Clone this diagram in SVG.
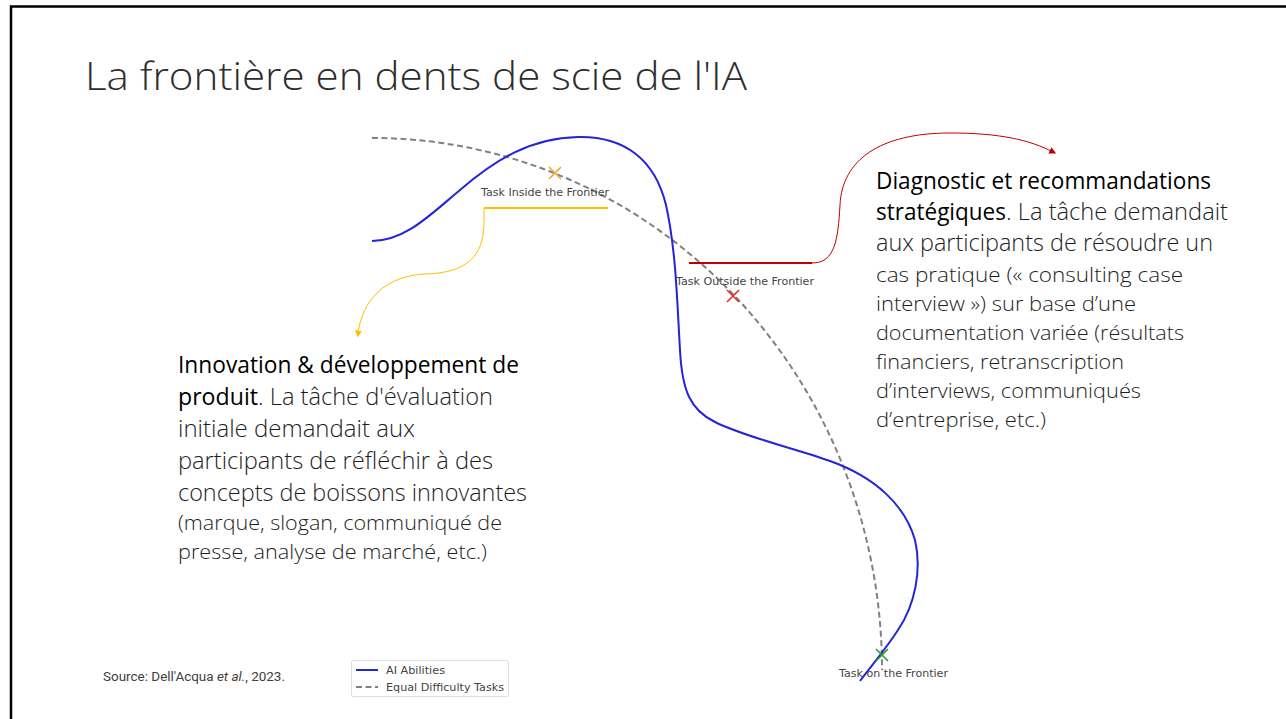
<svg xmlns="http://www.w3.org/2000/svg" width="1286" height="719" viewBox="0 0 1286 719">
<defs>
<marker id="arrY" viewBox="0 0 10 10" refX="5" refY="5" markerWidth="7" markerHeight="7" orient="auto"><path d="M0,0 L10,5 L0,10 z" fill="#FFC000"/></marker>
<marker id="arrR" viewBox="0 0 10 10" refX="5" refY="5" markerWidth="7" markerHeight="7" orient="auto"><path d="M0,0 L10,5 L0,10 z" fill="#C00000"/></marker>
<style>
.title{font-family:"Open Sans","Liberation Sans",sans-serif;font-weight:300;font-size:38px;fill:#2e2e2e}
.body{font-family:"Open Sans","Liberation Sans",sans-serif;font-weight:300;fill:#1e1e1e}
.bold{font-family:"Open Sans","Liberation Sans",sans-serif;font-weight:400;fill:#000}
.lbl{font-family:"DejaVu Sans",sans-serif;font-size:11px;fill:#444}
.src{font-family:Roboto,"Liberation Sans",sans-serif;font-size:12px;fill:#404040}
.ai{fill:none;stroke:#2424d8;stroke-width:2}
.eq{fill:none;stroke:#808080;stroke-width:2;stroke-dasharray:6,3.5}
</style>
</defs>
<rect width="1286" height="719" fill="#fff"/>
<path d="M11,719 V6.5 H1286" fill="none" stroke="#000" stroke-width="2.5"/>
<g id="title"><text class="title" x="85" y="90" textLength="662" lengthAdjust="spacingAndGlyphs">La frontière en dents de scie de l'IA</text></g>
<g id="chart">
<path class="eq" d="M372,138 A510,532 0 0 1 882,670"/>
<path class="ai" d="M372,241 C405,241 430,215 460,190 C495,160 530,138 578,137 C625,136 655,160 666,205 C676,250 677,300 680,350 C682,390 690,410 715,422 C745,437 790,447 830,461 C875,477 905,505 915,540 C922,570 915,605 898,630 C885,650 872,665 860,681"/>
<g stroke="#f0a830" stroke-width="1.6"><path d="M549,167 L561,179 M561,167 L549,179"/></g>
<g stroke="#e03030" stroke-width="1.6"><path d="M727,290 L739,302 M739,290 L727,302"/></g>
<g stroke="#2a9a2a" stroke-width="1.6"><path d="M876,649 L888,661 M888,649 L876,661"/></g>
<text class="lbl" x="481" y="196" textLength="128" lengthAdjust="spacingAndGlyphs">Task Inside the Frontier</text>
<text class="lbl" x="676" y="285" textLength="138" lengthAdjust="spacingAndGlyphs">Task Outside the Frontier</text>
<text class="lbl" x="839" y="677" textLength="109" lengthAdjust="spacingAndGlyphs">Task on the Frontier</text>
</g>
<g id="legend">
<rect x="351.5" y="660.5" width="157" height="36" rx="2" fill="#fff" stroke="#ddd"/>
<path class="ai" d="M356,670 H378"/>
<path class="eq" d="M356,687 H378" stroke-dasharray="5,3"/>
<text class="lbl" x="386" y="674" font-size="10.5" textLength="59" lengthAdjust="spacingAndGlyphs">AI Abilities</text>
<text class="lbl" x="386" y="691" font-size="10.5" textLength="118" lengthAdjust="spacingAndGlyphs">Equal Difficulty Tasks</text>
</g>
<g id="source"><text class="src" x="103" y="681" textLength="182" lengthAdjust="spacingAndGlyphs">Source: Dell'Acqua <tspan font-style="italic">et al.</tspan>, 2023.</text></g>
<g id="connectors">
<path d="M484,208 H608" stroke="#FFC000" stroke-width="2" fill="none"/>
<path d="M484,208 V222 C484,258 465,273 425,274 C385,276 362,300 358,334" stroke="#FFC000" stroke-width="1" fill="none" marker-end="url(#arrY)"/>
<path d="M689,263 H812" stroke="#C00000" stroke-width="2" fill="none"/>
<path d="M812,263 C835,263 838,240 840,205 C842,160 880,133 950,133 C1000,133 1030,140 1053,152" stroke="#C00000" stroke-width="1" fill="none" marker-end="url(#arrR)"/>
</g>
<g id="left-text">
<text class="bold" x="178" y="373" font-size="23" textLength="341" lengthAdjust="spacingAndGlyphs">Innovation &amp; développement de</text>
<text class="bold" x="178" y="405" font-size="23" textLength="80" lengthAdjust="spacingAndGlyphs">produit</text>
<text class="body" x="258" y="405" font-size="23" textLength="235" lengthAdjust="spacingAndGlyphs">. La tâche d'évaluation</text>
<text class="body" x="178" y="437" font-size="23" textLength="237" lengthAdjust="spacingAndGlyphs">initiale demandait aux</text>
<text class="body" x="178" y="469" font-size="23" textLength="315" lengthAdjust="spacingAndGlyphs">participants de réfléchir à des</text>
<text class="body" x="178" y="501" font-size="23" textLength="349" lengthAdjust="spacingAndGlyphs">concepts de boissons innovantes</text>
<text class="body" x="178" y="530" font-size="20" textLength="324" lengthAdjust="spacingAndGlyphs">(marque, slogan, communiqué de</text>
<text class="body" x="178" y="559" font-size="20" textLength="309" lengthAdjust="spacingAndGlyphs">presse, analyse de marché, etc.)</text>
</g>
<g id="right-text">
<text class="bold" x="876" y="189" font-size="23" textLength="335" lengthAdjust="spacingAndGlyphs">Diagnostic et recommandations</text>
<text class="bold" x="876" y="220" font-size="23" textLength="130" lengthAdjust="spacingAndGlyphs">stratégiques</text>
<text class="body" x="1006" y="220" font-size="23" textLength="222" lengthAdjust="spacingAndGlyphs">. La tâche demandait</text>
<text class="body" x="876" y="251" font-size="23" textLength="337" lengthAdjust="spacingAndGlyphs">aux participants de résoudre un</text>
<text class="body" x="876" y="282" font-size="20" textLength="307" lengthAdjust="spacingAndGlyphs">cas pratique (« consulting case</text>
<text class="body" x="876" y="311" font-size="20" textLength="260" lengthAdjust="spacingAndGlyphs">interview ») sur base d’une</text>
<text class="body" x="876" y="340" font-size="20" textLength="308" lengthAdjust="spacingAndGlyphs">documentation variée (résultats</text>
<text class="body" x="876" y="369" font-size="20" textLength="248" lengthAdjust="spacingAndGlyphs">financiers, retranscription</text>
<text class="body" x="876" y="398" font-size="20" textLength="265" lengthAdjust="spacingAndGlyphs">d’interviews, communiqués</text>
<text class="body" x="876" y="427" font-size="20" textLength="170" lengthAdjust="spacingAndGlyphs">d’entreprise, etc.)</text>
</g>
</svg>
